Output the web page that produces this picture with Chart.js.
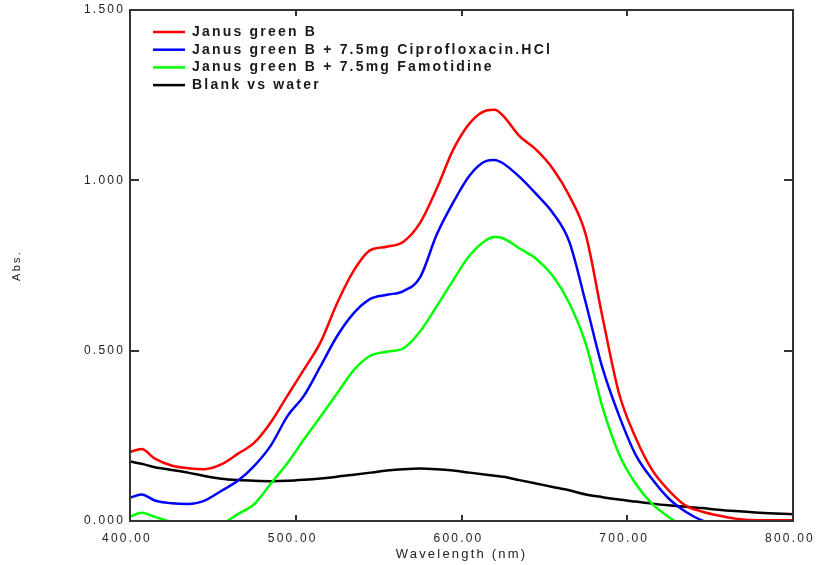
<!DOCTYPE html>
<html lang="en">
<head>
    <meta charset="UTF-8">
    <title>Absorption spectra</title>
    <script src="https://cdn.jsdelivr.net/npm/chart.js"></script>
    <style>
        body { margin: 0; background: #fff; }
        #wrap { width: 817px; height: 565px; }
    </style>
</head>
<body>
    <div id="wrap"><canvas id="specChart" width="817" height="565"></canvas></div>

    <script>
// Wavelength grid (nm) and absorbance
const wavelengths = [400, 407, 415, 425, 435, 445, 455, 465, 475, 485, 495, 505, 515, 525, 535, 545, 555, 565, 575, 585,
    595, 605, 615, 620, 625, 635, 645, 655, 665, 675, 685, 695, 705, 715, 725, 735, 745, 755, 765, 780, 800];

const janusGreen = [0.203, 0.211, 0.183, 0.163, 0.155, 0.152, 0.166, 0.197, 0.230, 0.290, 0.368, 0.445, 0.525, 0.640, 0.735, 0.795, 0.805, 0.820, 0.875, 0.975,
    1.090, 1.168, 1.205, 1.207, 1.190, 1.130, 1.090, 1.035, 0.955, 0.840, 0.600, 0.375, 0.245, 0.150, 0.090, 0.046, 0.028, 0.016, 0.007, 0.002, 0.002];

const withCipro = [0.068, 0.078, 0.060, 0.052, 0.050, 0.060, 0.088, 0.118, 0.162, 0.222, 0.308, 0.368, 0.455, 0.543, 0.610, 0.652, 0.664, 0.675, 0.715, 0.840,
    0.935, 1.015, 1.057, 1.060, 1.050, 1.010, 0.960, 0.905, 0.820, 0.640, 0.450, 0.310, 0.195, 0.123, 0.066, 0.028, 0.002, -0.010, -0.015, -0.020, -0.020];

const withFamotidine = [0.013, 0.024, 0.012, -0.003, -0.020, -0.025, -0.010, 0.020, 0.050, 0.110, 0.170, 0.240, 0.307, 0.375, 0.443, 0.485, 0.497, 0.507, 0.556, 0.630,
    0.707, 0.780, 0.825, 0.834, 0.830, 0.800, 0.770, 0.720, 0.640, 0.520, 0.335, 0.197, 0.110, 0.050, 0.012, -0.020, -0.040, -0.040, -0.040, -0.040, -0.040];

const blankWater = [0.175, 0.168, 0.158, 0.150, 0.142, 0.132, 0.124, 0.120, 0.118, 0.117, 0.118, 0.121, 0.125, 0.130, 0.136, 0.142, 0.148, 0.152, 0.154, 0.152,
    0.148, 0.142, 0.136, 0.133, 0.130, 0.120, 0.110, 0.100, 0.090, 0.078, 0.070, 0.063, 0.057, 0.051, 0.046, 0.042, 0.038, 0.033, 0.029, 0.024, 0.020];

const seriesNames = ["Janus green B", "Janus green B + 7.5mg Ciprofloxacin.HCl", "Janus green B + 7.5mg Famotidine", "Blank vs water"];
const seriesColors = ["#ff0000", "#0000ff", "#00ff00", "#000000"];
const seriesValues = [janusGreen, withCipro, withFamotidine, blankWater];

const xTicks = [400, 500, 600, 700, 800];
const yTicks = [0, 0.5, 1.0, 1.5];

const FONT = "Arial, 'Liberation Sans', sans-serif";

// the instrument software prints its text rather widely spaced
const spacedText = {
    id: 'spacedText',
    beforeUpdate(chart) { chart.ctx.letterSpacing = '2.2px'; },
    beforeDraw(chart) { chart.ctx.letterSpacing = '2.2px'; }
};

// Box around the plot with inward tick marks on all sides
const frameTicks = {
    id: 'frameTicks',
    afterDatasetsDraw(chart) {
        const { ctx, chartArea: a, scales } = chart;
        ctx.save();
        ctx.strokeStyle = '#333';
        ctx.lineWidth = 2;
        ctx.strokeRect(a.left, a.top, a.right - a.left, a.bottom - a.top);
        ctx.beginPath();
        xTicks.forEach(v => {
            const px = Math.round(scales.x.getPixelForValue(v));
            ctx.moveTo(px, a.bottom); ctx.lineTo(px, a.bottom - 6);
            ctx.moveTo(px, a.top); ctx.lineTo(px, a.top + 6);
        });
        yTicks.forEach(v => {
            const py = Math.round(scales.y.getPixelForValue(v));
            ctx.moveTo(a.left, py); ctx.lineTo(a.left + 9, py);
            ctx.moveTo(a.right, py); ctx.lineTo(a.right - 9, py);
        });
        ctx.stroke();
        ctx.restore();
    }
};

// Legend drawn inside the top-left corner of the plot
const innerLegend = {
    id: 'innerLegend',
    afterDraw(chart) {
        const { ctx, chartArea: a } = chart;
        ctx.save();
        ctx.font = "bold 14px " + FONT;
        ctx.letterSpacing = '2.2px';
        ctx.textBaseline = 'middle';
        chart.data.datasets.forEach((ds, i) => {
            const y = a.top + 22 + i * 17.7;
            ctx.strokeStyle = ds.borderColor;
            ctx.lineWidth = 2.5;
            ctx.beginPath();
            ctx.moveTo(a.left + 23, y);
            ctx.lineTo(a.left + 55, y);
            ctx.stroke();
            ctx.fillStyle = '#1a1a1a';
            ctx.fillText(ds.label, a.left + 62, y);
        });
        ctx.restore();
    }
};

new Chart(document.getElementById('specChart'), {
    type: 'line',
    data: {
        datasets: seriesNames.map((name, i) => ({
            label: name,
            data: wavelengths.map((w, j) => ({ x: w, y: seriesValues[i][j] })),
            borderColor: seriesColors[i],
            borderWidth: 2.5,
            pointRadius: 0,
            cubicInterpolationMode: 'monotone',
            fill: false
        }))
    },
    options: {
        responsive: false,
        animation: false,
        layout: { padding: { left: 10, right: 24, top: 10, bottom: 3 } },
        plugins: { legend: { display: false }, tooltip: { enabled: false } },
        scales: {
            x: {
                type: 'linear',
                min: 400,
                max: 800,
                afterBuildTicks: s => { s.ticks = xTicks.map(v => ({ value: v })); },
                afterFit: s => { s.height = 41; s.paddingLeft = 0; s.paddingRight = 0; },
                grid: { display: false, drawTicks: false, tickLength: 0 },
                border: { display: false },
                ticks: {
                    padding: 10,
                    labelOffset: -3,
                    color: '#222',
                    font: { family: FONT, size: 12 },
                    maxRotation: 0,
                    callback: v => Number(v).toFixed(2)
                },
                title: { display: true, text: 'Wavelength (nm)', color: '#222', padding: 0, font: { family: FONT, size: 13 } }
            },
            y: {
                min: 0,
                max: 1.5,
                afterBuildTicks: s => { s.ticks = yTicks.map(v => ({ value: v })); },
                afterFit: s => { s.width = 120; s.paddingTop = 0; s.paddingBottom = 0; },
                grid: { display: false, drawTicks: false, tickLength: 0 },
                border: { display: false },
                ticks: {
                    padding: 5,
                    color: '#222',
                    font: { family: FONT, size: 12 },
                    callback: v => Number(v).toFixed(3)
                },
                title: { display: true, text: 'Abs.', color: '#222', padding: 0, font: { family: FONT, size: 11 } }
            }
        }
    },
    plugins: [spacedText, frameTicks, innerLegend]
});
    </script>
</body>
</html>
